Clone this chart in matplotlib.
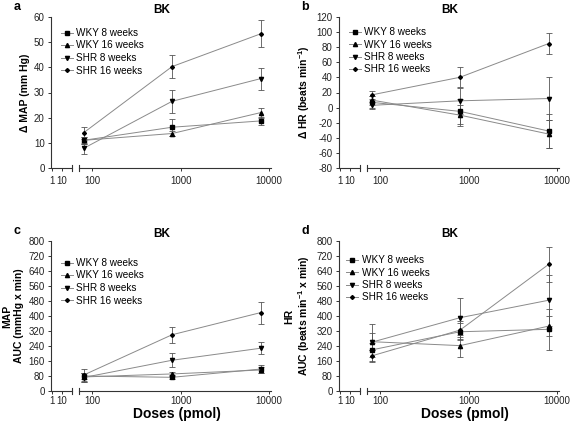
import numpy as np
import matplotlib
matplotlib.use('Agg')
import matplotlib.pyplot as plt
from matplotlib.lines import Line2D
from matplotlib.ticker import NullLocator

plt.rcParams['font.family'] = ['Liberation Sans', 'DejaVu Sans']
plt.rcParams['mathtext.fontset'] = 'custom'
plt.rcParams['mathtext.rm'] = 'Liberation Sans'
plt.rcParams['mathtext.bf'] = 'Liberation Sans:bold'
plt.rcParams['mathtext.default'] = 'bf'

# doses (pmol)
doses = [80, 800, 8000]
series = ['WKY 8 weeks', 'WKY 16 weeks', 'SHR 8 weeks', 'SHR 16 weeks']
markers = ['s', '^', 'v', 'D']
msizes = [3.0, 3.0, 3.0, 2.0]

# panel a: delta MAP (mm Hg)
a_wky8 = [11, 16.2, 18.7]
a_wky8_err = [1.5, 3.3, 1.7]
a_wky16 = [11, 13.7, 22]
a_wky16_err = [1.5, 1, 2]
a_shr8 = [7.8, 26.5, 35.5]
a_shr8_err = [2.3, 4.5, 4.4]
a_shr16 = [14, 40.3, 53.3]
a_shr16_err = [2.4, 4.5, 5.4]

# panel b: delta HR (beats/min)
b_wky8 = [7, -5, -31]
b_wky8_err = [8, 17, 22]
b_wky16 = [10, -10, -35]
b_wky16_err = [6, 14, 19]
b_shr8 = [3, 9, 12]
b_shr8_err = [5, 17, 28]
b_shr16 = [16.8, 40.2, 84.8]
b_shr16_err = [5, 13, 14]

# panel c: MAP AUC
c_wky8 = [80, 73, 117]
c_wky8_err = [15, 10, 20]
c_wky16 = [75, 91, 112]
c_wky16_err = [20, 12, 15]
c_shr8 = [72, 164, 228]
c_shr8_err = [25, 37, 32]
c_shr16 = [85, 300, 418]
c_shr16_err = [35, 43, 58]

# panel d: HR AUC
d_wky8 = [219, 316, 329]
d_wky8_err = [35, 45, 110]
d_wky16 = [263, 242, 346]
d_wky16_err = [45, 59, 55]
d_shr8 = [260, 391, 484]
d_shr8_err = [100, 103, 135]
d_shr16 = [187, 325, 675]
d_shr16_err = [30, 50, 95]

panels = [
    ('a', [a_wky8, a_wky16, a_shr8, a_shr16], [a_wky8_err, a_wky16_err, a_shr8_err, a_shr16_err],
     (0, 60), np.arange(0, 61, 10), '\u0394 MAP (mm Hg)'),
    ('b', [b_wky8, b_wky16, b_shr8, b_shr16], [b_wky8_err, b_wky16_err, b_shr8_err, b_shr16_err],
     (-80, 120), np.arange(-80, 121, 20), '\u0394 HR (beats min$^{-1}$)'),
    ('c', [c_wky8, c_wky16, c_shr8, c_shr16], [c_wky8_err, c_wky16_err, c_shr8_err, c_shr16_err],
     (0, 800), np.arange(0, 801, 80), 'MAP\nAUC (mmHg x min)'),
    ('d', [d_wky8, d_wky16, d_shr8, d_shr16], [d_wky8_err, d_wky16_err, d_shr8_err, d_shr16_err],
     (0, 800), np.arange(0, 801, 80), 'HR\nAUC (beats min$^{-1}$ x min)'),
]

W, H = 570, 425
fig = plt.figure(figsize=(W/100, H/100), dpi=100)

def add_ax(x0, x1, y0, y1):
    return fig.add_axes([x0/W, 1 - y1/H, (x1 - x0)/W, (y1 - y0)/H])

line_col = '#8a8a8a'
ax_col = '#333333'
col_off = [0, 288, 0, 288]
rows = [(17, 168), (17, 168), (241, 391), (241, 391)]

for i, (letter, vals, errs, ylim, yticks, ylabel) in enumerate(panels):
    xo = col_off[i]
    y0, y1 = rows[i]
    axl = add_ax(51 + xo, 72 + xo, y0, y1)
    axr = add_ax(79 + xo, 271 + xo, y0, y1)
    xpad = 3 if i < 2 else 1

    for ax in (axl, axr):
        ax.set_xscale('log')
        ax.set_ylim(ylim)
        ax.spines['top'].set_visible(False)
        ax.spines['right'].set_visible(False)
        for s in ax.spines.values():
            s.set_color(ax_col)
            s.set_linewidth(0.8)
        ax.tick_params(direction='out', length=2.5, width=0.7, labelsize=7, pad=2,
                       color=ax_col, labelcolor='#222222')
        ax.tick_params(axis='x', pad=xpad)
        ax.xaxis.set_minor_locator(NullLocator())
        ax.patch.set_alpha(0)

    axl.set_xlim(0.8, 95)
    axl.set_xticks([1, 10])
    axl.set_xticklabels(['1', '10'])
    axl.set_yticks(yticks)
    axl.set_yticklabels([str(v) for v in yticks])
    axl.set_ylabel(ylabel, fontsize=7.5, fontweight='bold', labelpad=3)

    axr.set_xlim(71, 10500)
    axr.set_xticks([100, 1000, 10000])
    axr.set_xticklabels(['100', '1000', '10000'])
    axr.spines['left'].set_visible(False)
    axr.set_yticks([])

    # axis break marks
    d = 0.018
    axl.plot([1, 1], [-d, d], transform=axl.transAxes, color=ax_col, lw=0.8, clip_on=False)
    axr.plot([0, 0], [-d, d], transform=axr.transAxes, color=ax_col, lw=0.8, clip_on=False)

    for k in range(4):
        axr.errorbar(doses, vals[k], yerr=errs[k], color=line_col, lw=0.7,
                     marker=markers[k], ms=msizes[k], mfc='black', mec='black',
                     ecolor='#555555', elinewidth=0.6, capsize=2, capthick=0.6,
                     clip_on=False)

    # panel letter and title
    fig.text((17 + xo)/W, 1 - (y0 - 10)/H, letter, fontsize=9, fontweight='bold',
             ha='center', va='center')
    fig.text((162 + xo)/W, 1 - (y0 - 7)/H, 'BK', fontsize=8.5, fontweight='bold',
             ha='center', va='center')
    if i >= 2:
        fig.text((177 + xo)/W, 1 - 414/H, 'Doses (pmol)', fontsize=10, fontweight='bold',
                 ha='center', va='center')

    handles = [Line2D([], [], color=line_col, lw=0.7, marker=markers[k], ms=msizes[k],
                      mfc='black', mec='black') for k in range(4)]
    leg_x = [61, 349, 61, 346][i]
    leg_y = [28, 27, 258, 255][i]
    fig.legend(handles, series, loc='upper left',
               bbox_to_anchor=(leg_x/W, 1 - leg_y/H), frameon=False, fontsize=7.2,
               handlelength=1.2, handletextpad=0.35, labelspacing=0.25, borderpad=0,
               borderaxespad=0)

fig.savefig('out.png', dpi=100)
